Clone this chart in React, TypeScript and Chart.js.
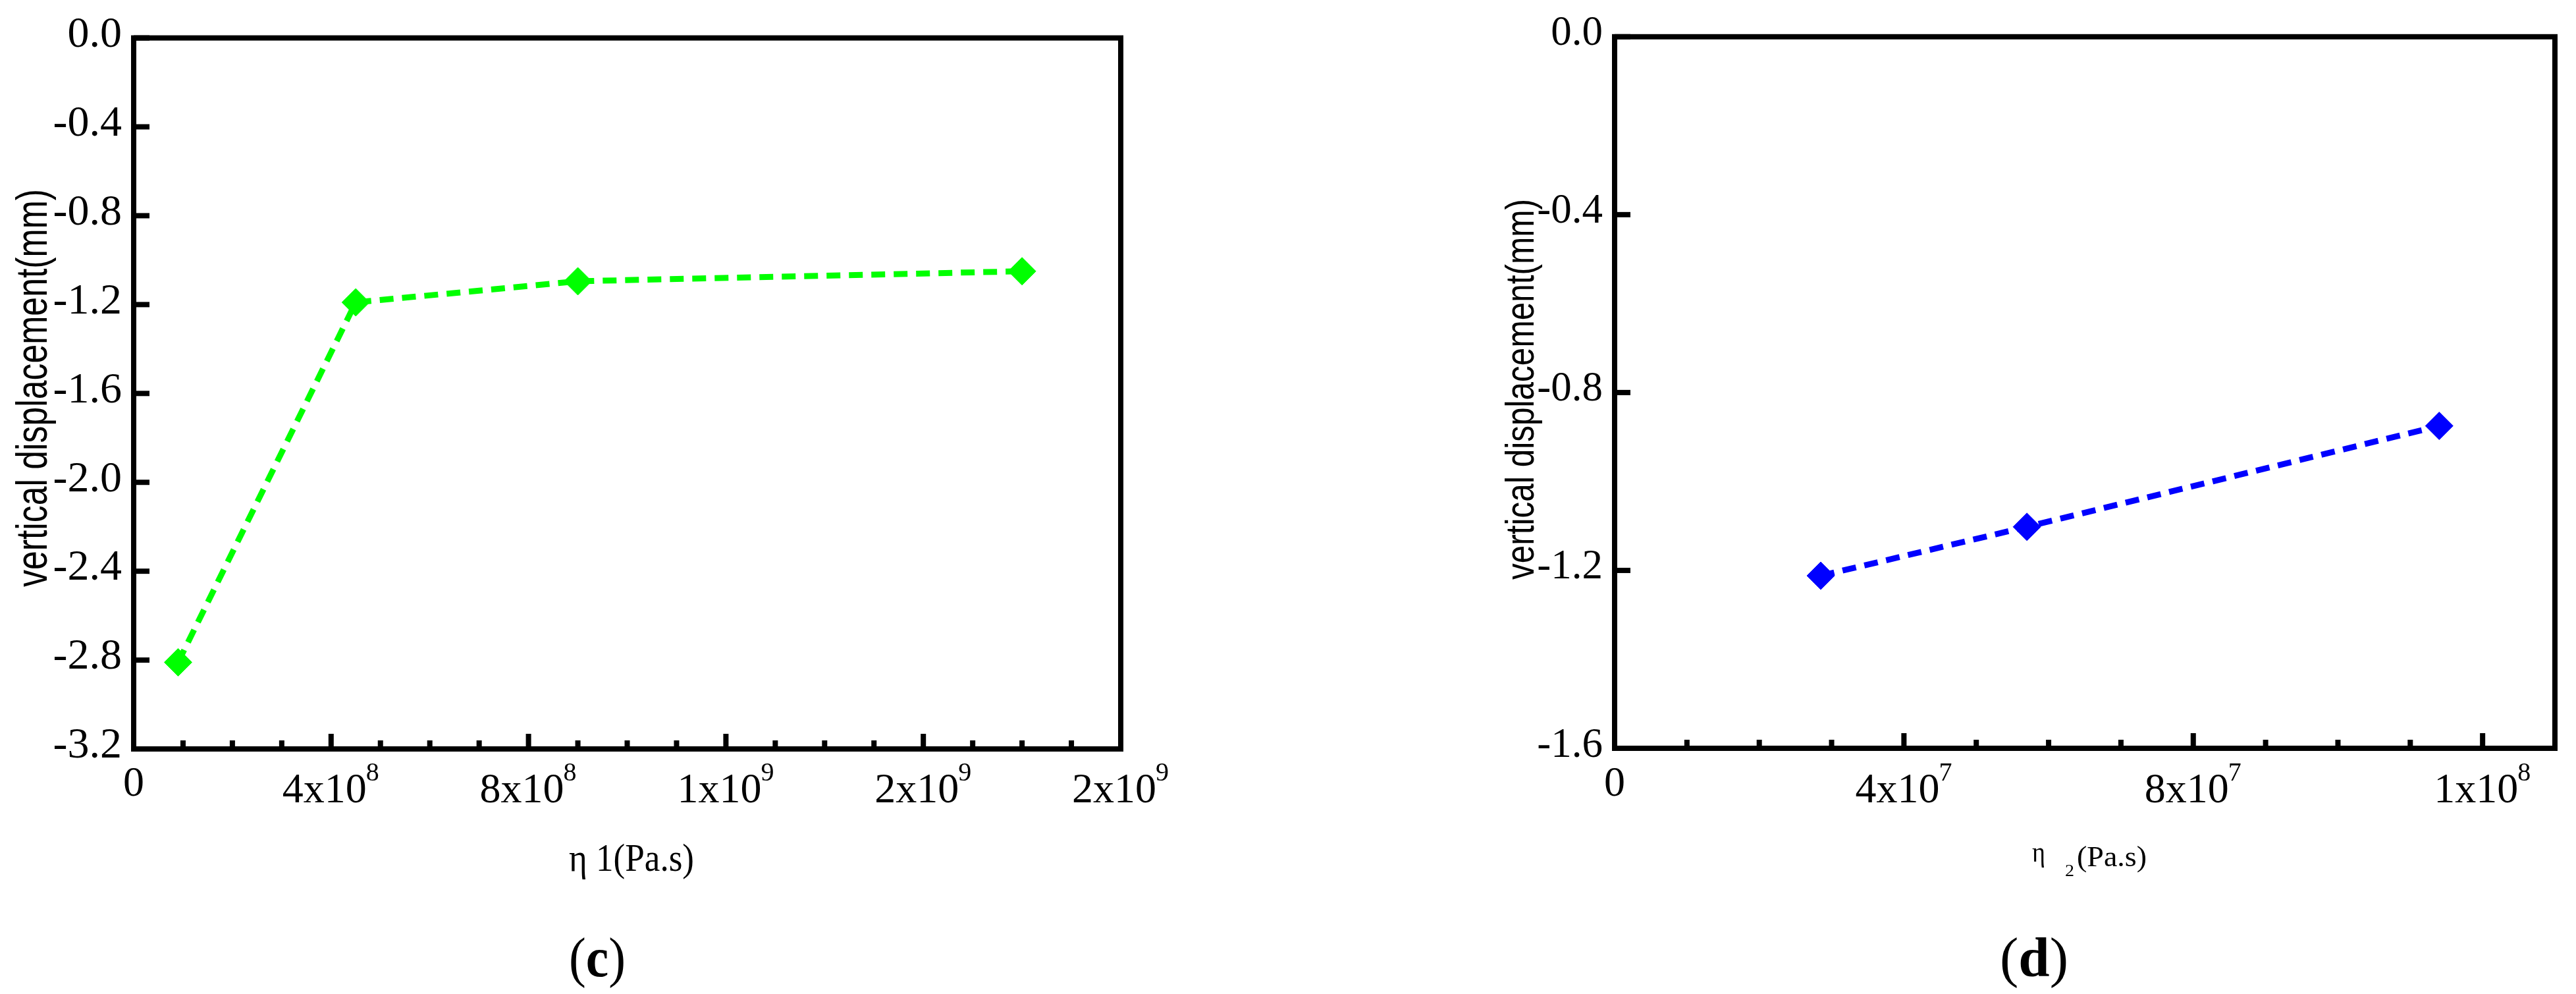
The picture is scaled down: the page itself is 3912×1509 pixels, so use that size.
import React, { useEffect, useRef } from "react";
import { Chart, registerables } from "chart.js";

Chart.register(...registerables);

// ---------- Panel (c) data ----------
const ETA1_VALUES = [9e7, 4.5e8, 9e8, 1.8e9];
const DISP_C = [-2.81, -1.19, -1.095, -1.05];
const X_TICK_VALUES_C = [0, 4e8, 8e8, 1.2e9, 1.6e9, 2e9];
const X_TICK_BASES_C = ["0", "4x10", "8x10", "1x10", "2x10", "2x10"];
const X_TICK_EXPS_C = ["", "8", "8", "9", "9", "9"];
const Y_TICKS_C = [0, -0.4, -0.8, -1.2, -1.6, -2.0, -2.4, -2.8, -3.2];

// ---------- Panel (d) data ----------
const ETA2_VALUES = [2.85e7, 5.7e7, 1.14e8];
const DISP_D = [-1.212, -1.102, -0.875];
const X_TICK_VALUES_D = [0, 4e7, 8e7, 1.2e8];
const X_TICK_BASES_D = ["0", "4x10", "8x10", "1x10"];
const X_TICK_EXPS_D = ["", "7", "7", "8"];
const Y_TICKS_D = [0, -0.4, -0.8, -1.2, -1.6];

const Y_TITLE = "vertical displacement(mm)";

const W = 1956;
const H = 1509;
const SERIF = "'Liberation Serif', 'Times New Roman', serif";
const SANS = "'Liberation Sans', Arial, sans-serif";

type PanelCfg = {
  xs: number[];
  ys: number[];
  color: string;
  xMin: number;
  xMax: number;
  yMin: number;
  yMax: number;
  xTickValues: number[];
  xTickBases: string[];
  xTickExps: string[];
  majorStep: number;
  minorStep: number;
  yTicks: number[];
  yFont: number;
  area: { left: number; top: number; right: number; bottom: number };
  yTitle: { x: number; cy: number; size: number; length: number };
  drawXTitle: (ctx: CanvasRenderingContext2D) => void;
  panel: { letter: string; x: number; y: number; size: number; width: number };
};

function drawScaled(
  ctx: CanvasRenderingContext2D,
  text: string,
  x: number,
  y: number,
  font: string,
  width: number
) {
  ctx.save();
  ctx.font = font;
  ctx.textAlign = "left";
  ctx.textBaseline = "alphabetic";
  const w = ctx.measureText(text).width;
  ctx.translate(x, y);
  ctx.scale(width / w, 1);
  ctx.fillText(text, 0, 0);
  ctx.restore();
}

function makePlugin(cfg: PanelCfg) {
  return {
    id: "frameAndLabels",
    afterDraw(chart: any) {
      const ctx: CanvasRenderingContext2D = chart.ctx;
      const a = chart.chartArea;
      const xs = chart.scales.x;
      const ys = chart.scales.y;
      ctx.save();
      ctx.fillStyle = "#000";
      ctx.strokeStyle = "#000";
      // frame
      ctx.lineWidth = 8;
      ctx.lineJoin = "miter";
      ctx.strokeRect(a.left, a.top, a.right - a.left, a.bottom - a.top);
      // x ticks (inward)
      const nMinor = Math.round((cfg.xMax - cfg.xMin) / cfg.minorStep);
      for (let i = 0; i <= nMinor; i++) {
        const v = cfg.xMin + i * cfg.minorStep;
        const px = xs.getPixelForValue(v);
        const ratio = v / cfg.majorStep;
        const isMajor = Math.abs(ratio - Math.round(ratio)) < 1e-6;
        const len = isMajor ? 19 : 9;
        ctx.fillRect(px - 4, a.bottom - 4 - len, 8, len + 4);
      }
      // y ticks (inward)
      for (const v of cfg.yTicks) {
        const py = ys.getPixelForValue(v);
        ctx.fillRect(a.left, py - 4, 24, 8);
      }
      // x tick labels with superscripts
      ctx.textBaseline = "alphabetic";
      ctx.textAlign = "left";
      cfg.xTickValues.forEach((v, i) => {
        const px = xs.getPixelForValue(v);
        const base = cfg.xTickBases[i];
        const exp = cfg.xTickExps[i];
        ctx.font = `64px ${SERIF}`;
        const wb = ctx.measureText(base).width;
        if (!exp) {
          ctx.fillText(base, px - wb / 2, 1208);
        } else {
          ctx.font = `40px ${SERIF}`;
          const we = ctx.measureText(exp).width;
          const x0 = px - (wb + we) / 2;
          ctx.font = `64px ${SERIF}`;
          ctx.fillText(base, x0, 1218);
          ctx.font = `40px ${SERIF}`;
          ctx.fillText(exp, x0 + wb - 1, 1185);
        }
      });
      // y title (rotated, condensed)
      ctx.save();
      ctx.font = `${cfg.yTitle.size}px ${SANS}`;
      const tw = ctx.measureText(Y_TITLE).width;
      ctx.translate(cfg.yTitle.x, cfg.yTitle.cy);
      ctx.rotate(-Math.PI / 2);
      ctx.scale(cfg.yTitle.length / tw, 1);
      ctx.fillText(Y_TITLE, -tw / 2, 0);
      ctx.restore();
      // x title
      cfg.drawXTitle(ctx);
      // panel label "(c)" / "(d)"
      const p = cfg.panel;
      const parts = [
        { t: "(", f: `${p.size}px ${SERIF}` },
        { t: p.letter, f: `bold ${p.size}px ${SERIF}` },
        { t: ")", f: `${p.size}px ${SERIF}` },
      ];
      let total = 0;
      for (const part of parts) {
        ctx.font = part.f;
        total += ctx.measureText(part.t).width;
      }
      const s = p.width / total;
      ctx.save();
      ctx.translate(p.x, p.y);
      ctx.scale(s, 1);
      let cx = 0;
      for (const part of parts) {
        ctx.font = part.f;
        ctx.fillText(part.t, cx, 0);
        cx += ctx.measureText(part.t).width;
      }
      ctx.restore();
      ctx.restore();
    },
  };
}

const CFG_C: PanelCfg = {
  xs: ETA1_VALUES,
  ys: DISP_C,
  color: "#00FF00",
  xMin: 0,
  xMax: 2e9,
  yMin: -3.2,
  yMax: 0,
  xTickValues: X_TICK_VALUES_C,
  xTickBases: X_TICK_BASES_C,
  xTickExps: X_TICK_EXPS_C,
  majorStep: 4e8,
  minorStep: 1e8,
  yTicks: Y_TICKS_C,
  yFont: 66,
  area: { left: 203, top: 44, right: 1702, bottom: 1137 },
  yTitle: { x: 71, cy: 589, size: 67, length: 604 },
  drawXTitle: (ctx) => {
    drawScaled(ctx, "η 1(Pa.s)", 864, 1322, `60px ${SERIF}`, 190);
  },
  panel: { letter: "c", x: 864, y: 1482, size: 84, width: 86 },
};

const CFG_D: PanelCfg = {
  xs: ETA2_VALUES,
  ys: DISP_D,
  color: "#0000FF",
  xMin: 0,
  xMax: 1.3e8,
  yMin: -1.6,
  yMax: 0,
  xTickValues: X_TICK_VALUES_D,
  xTickBases: X_TICK_BASES_D,
  xTickExps: X_TICK_EXPS_D,
  majorStep: 4e7,
  minorStep: 1e7,
  yTicks: Y_TICKS_D,
  yFont: 63,
  area: { left: 496, top: 45, right: 1924, bottom: 1136 },
  yTitle: { x: 373, cy: 591, size: 62, length: 578 },
  drawXTitle: (ctx) => {
    drawScaled(ctx, "η", 1130, 1308, `44px ${SERIF}`, 20);
    drawScaled(ctx, "2", 1180, 1330, `26px ${SERIF}`, 14);
    drawScaled(ctx, "(Pa.s)", 1198, 1315, `44px ${SERIF}`, 106);
  },
  panel: { letter: "d", x: 1081, y: 1482, size: 84, width: 104 },
};

function Panel({ cfg, left }: { cfg: PanelCfg; left: number }) {
  const ref = useRef<HTMLCanvasElement>(null);
  useEffect(() => {
    const canvas = ref.current;
    if (!canvas) return;
    const chart = new Chart(canvas, {
      type: "line",
      data: {
        datasets: [
          {
            data: cfg.xs.map((x, i) => ({ x, y: cfg.ys[i] })),
            borderColor: cfg.color,
            backgroundColor: cfg.color,
            borderWidth: 9,
            borderDash: [21, 13],
            borderCapStyle: "butt",
            tension: 0,
            pointStyle: "rectRot",
            pointRadius: 21,
            pointBackgroundColor: cfg.color,
            pointBorderColor: cfg.color,
            pointBorderWidth: 1,
            clip: false,
          } as any,
        ],
      },
      options: {
        responsive: false,
        maintainAspectRatio: false,
        animation: false,
        devicePixelRatio: 1,
        events: [],
        layout: {
          padding: {
            left: 0,
            top: cfg.area.top,
            right: W - cfg.area.right,
            bottom: H - cfg.area.bottom,
          },
        },
        plugins: {
          legend: { display: false },
          tooltip: { enabled: false },
        },
        scales: {
          x: {
            type: "linear",
            display: false,
            min: cfg.xMin,
            max: cfg.xMax,
          },
          y: {
            type: "linear",
            position: "left",
            min: cfg.yMin,
            max: cfg.yMax,
            afterFit: (s: any) => {
              s.width = cfg.area.left;
            },
            afterBuildTicks: (s: any) => {
              s.ticks = cfg.yTicks.map((v) => ({ value: v }));
            },
            grid: { display: false, drawTicks: false },
            border: { display: false },
            ticks: {
              callback: (v: any) => Number(v).toFixed(1),
              font: { family: "Liberation Serif", size: cfg.yFont },
              color: "#000",
              padding: 18,
              labelOffset: -4,
            },
          },
        },
      } as any,
      plugins: [makePlugin(cfg)],
    });
    return () => chart.destroy();
  }, [cfg]);
  return (
    <canvas
      ref={ref}
      width={W}
      height={H}
      style={{ position: "absolute", left, top: 0, width: W, height: H }}
    />
  );
}

export default function App() {
  return (
    <div
      style={{
        position: "fixed",
        left: 0,
        top: 0,
        width: 3912,
        height: 1509,
        background: "#fff",
        overflow: "hidden",
      }}
    >
      <Panel cfg={CFG_C} left={0} />
      <Panel cfg={CFG_D} left={1956} />
    </div>
  );
}
